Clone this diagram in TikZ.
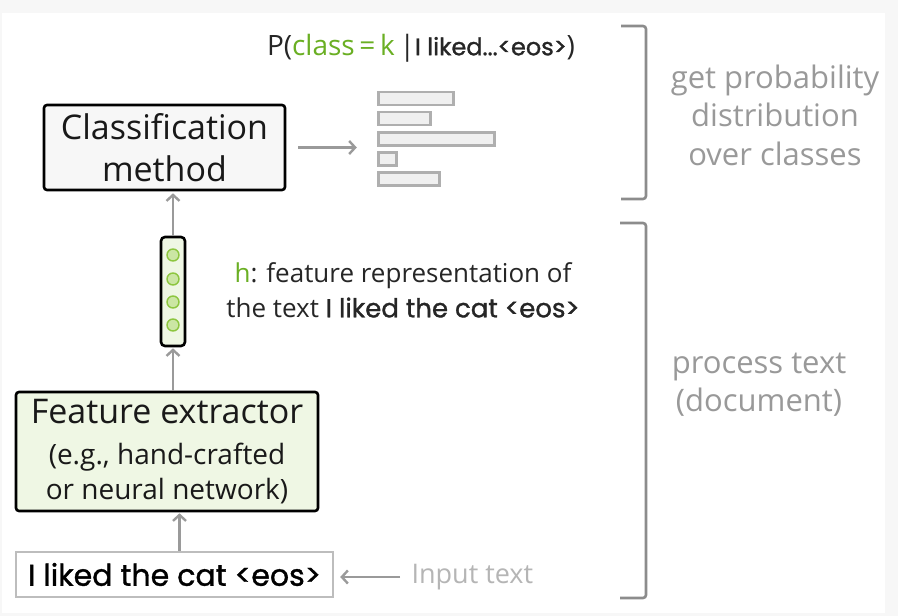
\documentclass[tikz,border=0pt]{standalone}
\usepackage{fontspec}
\setmainfont{Open Sans}
\newfontfamily\comic{Poppins}[FakeBold=1.2]
\usetikzlibrary{arrows.meta,fit}
\definecolor{bggray}{HTML}{F7F7F7}
\definecolor{lgreen}{HTML}{EFF7E4}
\definecolor{boxgray}{HTML}{F7F7F7}
\definecolor{dgreen}{HTML}{6AAF23}
\definecolor{cfill}{HTML}{CBE6A3}
\definecolor{cline}{HTML}{8DC63F}
\definecolor{arrowgray}{HTML}{9A9A9A}
\definecolor{txtgray}{HTML}{999999}
\definecolor{lighttxt}{HTML}{B5B5B5}
\definecolor{bargray}{HTML}{AFAFAF}
\definecolor{barfill}{HTML}{F0F0F0}
\definecolor{inpborder}{HTML}{BDBDBD}
\definecolor{brackgray}{HTML}{8C8C8C}
\begin{document}
\begin{tikzpicture}[x=1pt,y=-1pt,
  blackbox/.style={draw=black,line width=2.6pt,rounded corners=3pt,inner sep=0pt,align=center,text=black!90},
  conn/.style={draw=arrowgray,line width=2.4pt,-{Straight Barb[length=6pt,width=13pt,line width=2.4pt]}},
  barbox/.style={draw=bargray,fill=barfill,line width=2.6pt,minimum height=13pt,inner sep=0pt,anchor=west},
  dot/.style={circle,draw=cline,fill=cfill,line width=1.4pt,minimum size=12pt,inner sep=0pt},
  bracket/.style={draw=brackgray,line width=2.6pt,rounded corners=3pt},
  sidelabel/.style={text=txtgray,align=center,font=\fontsize{31}{38.5}\selectfont}
]
\fill[bggray] (0,0) rectangle (898,616);
\fill[white] (2,13) rectangle (885,613);
\useasboundingbox (0,0) rectangle (898,616);

% classification box
\node[blackbox,fill=boxgray,minimum width=241pt,minimum height=85pt,
  font=\fontsize{34}{42}\selectfont] (cls) at (164.5,147.5) {Classification\\method};

% bars
\node[barbox,minimum width=75pt] (b1) at (377,98.5) {};
\node[barbox,minimum width=52pt] (b2) at (377,118.5) {};
\node[barbox,minimum width=116pt] (b3) at (377,139) {};
\node[barbox,minimum width=18pt] (b4) at (377,159) {};
\node[barbox,minimum width=61pt] (b5) at (377,179) {};
\node[fit=(b1)(b5),inner sep=0pt] (bars) {};

\draw[conn,shorten <=12pt,shorten >=20pt] (cls.east) -- (cls.east -| bars.west);

% probability label
\node[font=\fontsize{28}{32}\selectfont,text=black!85] (prob) at (421,48)
  {P(\textcolor{dgreen}{class\,=\,k}\,|{\comic\fontsize{24}{30}\selectfont I liked...<eos>})};

% vector
\node[blackbox,fill=lgreen,minimum width=24pt,minimum height=109pt,rounded corners=4pt] (vec) at (173,291.5) {};
\node[dot] (c1) at (173,255) {};
\node[dot] (c2) at (173,279) {};
\node[dot] (c3) at (173,302) {};
\node[dot] (c4) at (173,325) {};

\draw[conn,shorten >=2pt] (vec.north) -- (vec.north |- cls.south);

% h label
\node[align=center,text=black!85,font=\fontsize{26}{35}\selectfont] (hlab) at (403,290)
  {\textcolor{dgreen}{h}: feature representation of\\the text {\comic\fontsize{26}{35}\selectfont I liked the cat <eos>}};

% feature extractor
\node[blackbox,fill=lgreen,minimum width=302pt,minimum height=119pt,
  font=\fontsize{28}{35}\selectfont] (fe) at (167,451.5)
  {{\fontsize{34}{40}\selectfont Feature extractor}\\[6pt]
   (e.g., hand-crafted\\
   or neural network)};

\draw[conn,shorten >=1pt] (fe.north -| vec.south) -- (vec.south);

% input text
\node[draw=inpborder,line width=2.4pt,minimum width=317pt,minimum height=45pt,inner sep=0pt,
  font=\comic\fontsize{30}{32}\selectfont] (inp) at (174.5,574.5) {I liked the cat <eos>};
\draw[conn,shorten >=1pt] ([xshift=5pt]inp.north) -- ([xshift=5pt]inp.north |- fe.south);

\node[text=lighttxt,font=\fontsize{27}{30}\selectfont,anchor=west] (itxt) at (408,577) {Input text};
\draw[conn,shorten <=8pt,shorten >=6pt] (itxt.west) -- (itxt.west -| inp.east);

% brackets
\coordinate (ub1) at (621,26);
\coordinate (ub2) at (646,26);
\coordinate (ub3) at (646,199);
\coordinate (ub4) at (621,199);
\draw[bracket] (ub1) -- (ub2) -- (ub3) -- (ub4);
\coordinate (lb1) at (620,223);
\coordinate (lb2) at (646,223);
\coordinate (lb3) at (646,598);
\coordinate (lb4) at (620,598);
\draw[bracket] (lb1) -- (lb2) -- (lb3) -- (lb4);

\node[sidelabel] (getp) at (775,115) {get probability\\distribution\\over classes};
\node[sidelabel] (proc) at (759,384.5) {process text\\(document)};
\end{tikzpicture}
\end{document}
